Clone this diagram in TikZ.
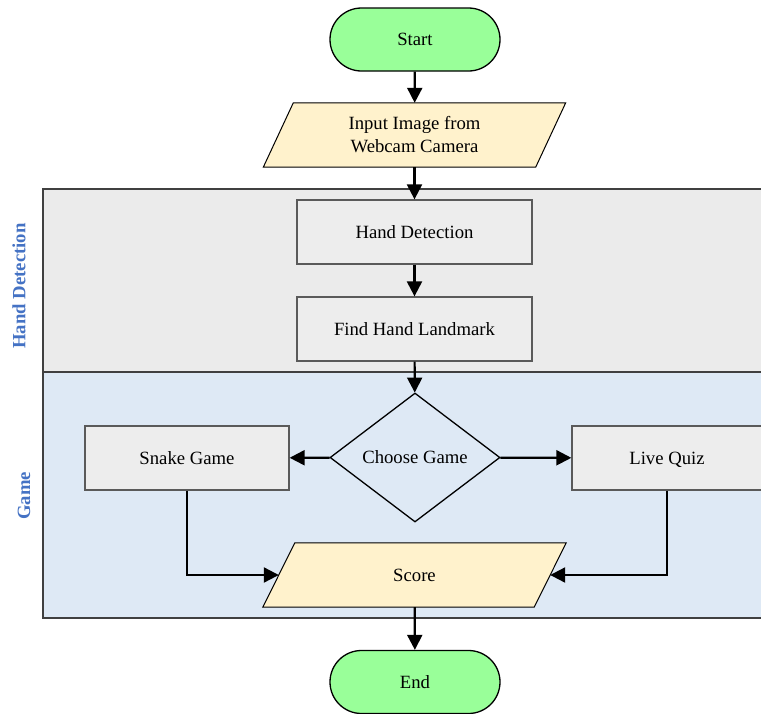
\documentclass[tikz,border=0pt]{standalone}
\usepackage{fontspec}
\setmainfont{Liberation Serif}
\usetikzlibrary{arrows.meta,calc,shapes.geometric}
\pgfdeclarelayer{bg}
\pgfdeclarelayer{mid}
\pgfsetlayers{bg,mid,main}
\definecolor{termgreen}{HTML}{99FF99}
\definecolor{iofill}{HTML}{FFF2CC}
\definecolor{boxfill}{HTML}{EDEDED}
\definecolor{boxline}{HTML}{5A5A5A}
\definecolor{laneA}{HTML}{EBEBEB}
\definecolor{laneB}{HTML}{DEE9F5}
\definecolor{laneline}{HTML}{404040}
\definecolor{lanelabel}{HTML}{4472C4}
\tikzset{
  term/.style={draw=black, line width=1.3pt, fill=termgreen, rounded corners=31.5pt,
    minimum width=170pt, minimum height=63pt, inner sep=0pt},
  iobox/.style={inner sep=0pt, align=center, minimum height=64pt},
  iopoly/.style={draw=black, line width=1pt, fill=iofill},
  procbox/.style={draw=boxline, line width=1.3pt, fill=boxfill, minimum height=64pt, inner sep=0pt,
    text height=12.5pt, text depth=0pt},
  choice/.style={diamond, draw=black, line width=1.3pt, fill=laneB, minimum width=170pt,
    minimum height=129pt, inner sep=0pt, aspect=1.3, text height=12.5pt, text depth=0pt},
  lanebox/.style={draw=laneline, line width=1.2pt},
  lanetext/.style={rotate=90, font=\fontsize{18.7}{23}\selectfont\bfseries, text=lanelabel},
  arr/.style={line width=2.2pt, -{Triangle[length=15pt,width=15pt]}}
}
\begin{document}
\begin{tikzpicture}[x=1pt,y=-1pt,font=\fontsize{18.7}{23}\selectfont]
\useasboundingbox (0,0) rectangle (761,713);
\clip (0,0) rectangle (761,713);
% lanes
\begin{pgfonlayer}{bg}
\fill[white] (0,0) rectangle (761,713);
\draw[lanebox, fill=laneA] (43,189) rectangle (780,372);
\draw[lanebox, fill=laneB] (43,372) rectangle (780,618);
\end{pgfonlayer}
\node[lanetext] (lhd) at (19,286) {Hand Detection};
\node[lanetext] (lgame) at (24,496) {Game};
% nodes
\node[term] (start) at (415,39.5) {Start};
\node[iobox, minimum width=272pt] (input) at (414.5,135) {Input Image from\\Webcam Camera};
\node[procbox, minimum width=235pt] (hd) at (414.5,232) {Hand Detection};
\node[procbox, minimum width=235pt] (fhl) at (414.5,329) {Find Hand Landmark};
\node[choice] (choose) at (415,457.5) {Choose Game};
\node[procbox, minimum width=204pt] (snake) at (187,458) {Snake Game};
\node[procbox, minimum width=190pt] (quiz) at (667,458) {Live Quiz};
\node[iobox, minimum width=271pt] (score) at (414.5,575) {Score};
\node[term] (end) at (415,682) {End};
% parallelograms
\begin{pgfonlayer}{mid}
\draw[iopoly] ($(input.north west)+(15,0)$) -- ($(input.north east)+(15,0)$)
  -- ($(input.south east)+(-15,0)$) -- ($(input.south west)+(-15,0)$) -- cycle;
\draw[iopoly] ($(score.north west)+(16,0)$) -- ($(score.north east)+(16,0)$)
  -- ($(score.south east)+(-16,0)$) -- ($(score.south west)+(-16,0)$) -- cycle;
\end{pgfonlayer}
% connectors
\draw[arr] (start) -- (input);
\draw[arr] (input) -- (hd);
\draw[arr] (hd) -- (fhl);
\draw[arr] (fhl) -- (choose);
\draw[arr] (choose) -- (snake);
\draw[arr] (choose) -- (quiz);
\draw[arr] (snake.south) |- (score.west);
\draw[arr] (quiz.south) |- (score.east);
\draw[arr] (score) -- (end);
\end{tikzpicture}
\end{document}
